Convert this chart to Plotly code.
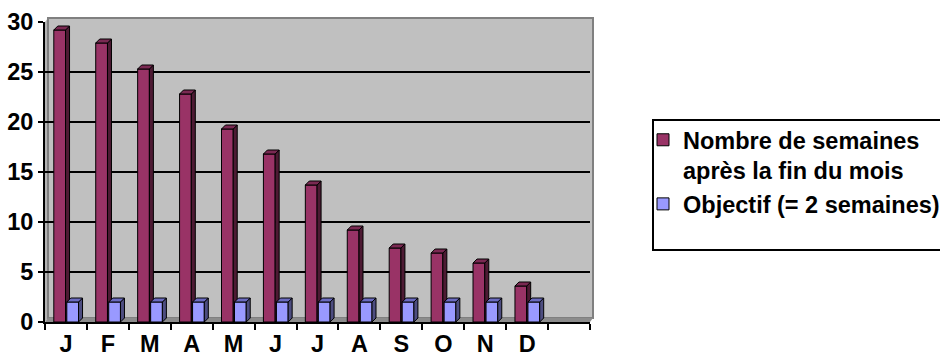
import plotly.graph_objects as go

# Monthly data
months = ["J", "F", "M", "A", "M", "J", "J", "A", "S", "O", "N", "D"]
weeks_after_month_end = [29.2, 27.9, 25.3, 22.8, 19.3, 16.8, 13.7, 9.2, 7.4, 6.9, 5.9, 3.6]
target_weeks = [2, 2, 2, 2, 2, 2, 2, 2, 2, 2, 2, 2]

name_weeks = "Nombre de semaines<br>après la fin du mois"
name_target = "Objectif (= 2 semaines)"

# Figure geometry (pixels)
W, H = 940, 356
L, R, T, B = 45, 350, 22, 34
plot_w = W - L - R
plot_h = H - T - B
n_slots = len(months) + 1          # one empty slot after December
x_range = [-0.5, n_slots - 0.5]
y_range = [0, 30]


def px_x(p):
    return (p - L) / plot_w


def px_y(p):
    return (H - B - p) / plot_h


# 3D look: depth of each column in axis units
depth_px = 4
dx = depth_px * (x_range[1] - x_range[0]) / plot_w
dy = depth_px * (y_range[1] - y_range[0]) / plot_h
bar_w = 0.28
off_weeks = -0.15
off_target = 0.16


def faces(values, offset):
    """Top and right side polygons of each column, separated by None."""
    top_x, top_y, side_x, side_y = [], [], [], []
    for i, v in enumerate(values):
        xl = i + offset - bar_w / 2
        xr = i + offset + bar_w / 2
        top_x += [xl, xl + dx, xr + dx, xr, xl, None]
        top_y += [v, v + dy, v + dy, v, v, None]
        side_x += [xr, xr + dx, xr + dx, xr, xr, None]
        side_y += [0, dy, v + dy, v, 0, None]
    return top_x, top_y, side_x, side_y


def column_traces(values, offset, name, front, top, side, xaxis):
    pos = [i + offset for i in range(len(values))]
    tx, ty, sx, sy = faces(values, offset)
    outline = dict(color="black", width=1)
    return [
        go.Bar(x=pos, y=values, width=bar_w, name=name, xaxis=xaxis,
               marker=dict(color=front, line=outline), hoverinfo="y"),
        go.Scatter(x=sx, y=sy, mode="lines", fill="toself", fillcolor=side,
                   line=outline, showlegend=False, hoverinfo="skip", xaxis=xaxis),
        go.Scatter(x=tx, y=ty, mode="lines", fill="toself", fillcolor=top,
                   line=outline, showlegend=False, hoverinfo="skip", xaxis=xaxis),
    ]


fig = go.Figure()
for tr in column_traces(weeks_after_month_end, off_weeks, name_weeks,
                        "#993366", "#7A2952", "#4D1A33", "x"):
    fig.add_trace(tr)
# second series on an overlaying x axis so it is drawn in front
for tr in column_traces(target_weeks, off_target, name_target,
                        "#9999FF", "#6B6BC0", "#4D4D80", "x2"):
    fig.add_trace(tr)

shapes = [
    # left side wall
    dict(type="path", xref="paper", yref="paper", layer="below",
         path=f"M {px_x(45)},{px_y(322)} L {px_x(45)},{px_y(22)} "
              f"L {px_x(48)},{px_y(18)} L {px_x(48)},{px_y(318)} Z",
         fillcolor="#B4B4B4", line=dict(width=0)),
    # back wall
    dict(type="rect", xref="paper", yref="paper", layer="below",
         x0=px_x(48), x1=px_x(593), y0=px_y(318), y1=px_y(18),
         fillcolor="#C0C0C0", line=dict(color="#808080", width=2)),
    # floor
    dict(type="path", xref="paper", yref="paper", layer="below",
         path=f"M {px_x(45)},{px_y(322)} L {px_x(590)},{px_y(322)} "
              f"L {px_x(593)},{px_y(318)} L {px_x(48)},{px_y(318)} Z",
         fillcolor="#8C8C8C", line=dict(width=0)),
    # legend frame
    dict(type="rect", xref="paper", yref="paper", layer="below",
         x0=px_x(653), x1=px_x(960), y0=px_y(250), y1=px_y(120),
         fillcolor="white", line=dict(color="black", width=2)),
]

boundaries = [k - 0.5 for k in range(n_slots + 1)]

fig.update_layout(
    width=W, height=H,
    margin=dict(l=L, r=R, t=T, b=B, pad=0, autoexpand=False),
    paper_bgcolor="white",
    plot_bgcolor="rgba(0,0,0,0)",
    barmode="overlay",
    font=dict(family="Liberation Sans, Arial, sans-serif", size=23.5,
              color="black", weight="bold"),
    shapes=shapes,
    showlegend=True,
    legend=dict(x=px_x(643), y=px_y(118), xanchor="left", yanchor="top",
                valign="top", bgcolor="rgba(0,0,0,0)", borderwidth=0,
                font=dict(size=23.5), tracegroupgap=2),
    xaxis=dict(range=x_range, tickmode="array",
               tickvals=list(range(len(months))), ticktext=months,
               ticks="", showgrid=False, zeroline=False, automargin=False,
               showline=True, linecolor="black", linewidth=2,
               minor=dict(tickmode="array", tickvals=boundaries,
                          ticks="outside", ticklen=6, tickwidth=2,
                          tickcolor="black", showgrid=False)),
    xaxis2=dict(range=x_range, overlaying="x", visible=False,
                showgrid=False, zeroline=False),
    yaxis=dict(range=y_range, dtick=5, tick0=0, automargin=False,
               ticks="outside", ticklen=5, tickwidth=2, tickcolor="black",
               showline=True, linecolor="black", linewidth=2,
               showgrid=True, gridcolor="black", gridwidth=2,
               zeroline=False),
)

fig.write_html("out.html")
